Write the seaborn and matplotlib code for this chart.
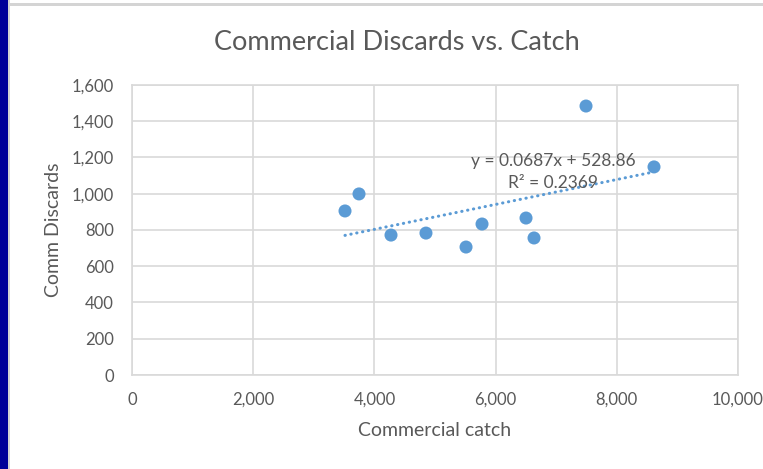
import matplotlib
matplotlib.use("Agg")
import matplotlib.pyplot as plt
import seaborn as sns
import numpy as np
import pandas as pd
from matplotlib.patches import Rectangle
from matplotlib.ticker import FuncFormatter

# Commercial catch vs. commercial discards
catch = [3515, 3746, 4274, 4851, 5512, 5776, 6502, 6634, 7492, 8614]
discards = [905, 999, 772, 783, 706, 833, 866, 756, 1484, 1148]

# Linear trendline coefficients
slope = 0.0687
intercept = 528.86
r_squared = 0.2369

x_ticks = [0, 2000, 4000, 6000, 8000, 10000]
y_ticks = [0, 200, 400, 600, 800, 1000, 1200, 1400, 1600]

df = pd.DataFrame({"catch": catch, "discards": discards})

sns.set_theme(style="white")
plt.rcParams["font.family"] = ["Lato", "DejaVu Sans"]

W, H = 763, 469
fig = plt.figure(figsize=(W / 100, H / 100), dpi=100)
fig.patch.set_facecolor("white")

# Frame: dark blue band on the left, light gray border lines
fig.patches.append(Rectangle((0, 0), 8 / W, 1, transform=fig.transFigure,
                             facecolor="#000099", edgecolor="none", zorder=0))
fig.patches.append(Rectangle((8 / W, 0), 2 / W, 1, transform=fig.transFigure,
                             facecolor="#D4D4D4", edgecolor="none", zorder=0))
fig.patches.append(Rectangle((10 / W, 1 - 6 / H), 1, 3 / H, transform=fig.transFigure,
                             facecolor="#D4D4D4", edgecolor="none", zorder=0))

left, right, top, bottom = 132, 738, 85, 375
ax = fig.add_axes([left / W, 1 - bottom / H, (right - left) / W, (bottom - top) / H])

blue = "#5B9BD5"
grid_c = "#D9D9D9"
text_c = "#595959"

sns.scatterplot(data=df, x="catch", y="discards", ax=ax, color=blue, s=88,
                edgecolor="none", zorder=3, legend=False)

# Trendline over the data range
xl = np.array([min(catch), max(catch)])
sns.lineplot(x=xl, y=slope * xl + intercept, ax=ax, color=blue, linewidth=2.2,
             linestyle=(0, (0.1, 1.85)), dash_capstyle="round", zorder=2)

ax.set_xlim(0, 10000)
ax.set_ylim(0, 1600)
ax.set_xticks(x_ticks)
ax.set_yticks(y_ticks)
fmt = FuncFormatter(lambda v, p: f"{int(v):,}")
ax.xaxis.set_major_formatter(fmt)
ax.yaxis.set_major_formatter(fmt)
ax.grid(True, color=grid_c, linewidth=1.2)
ax.set_axisbelow(True)
for s in ax.spines.values():
    s.set_color(grid_c)
    s.set_linewidth(1.2)
ax.tick_params(axis="both", length=0, labelsize=12, colors=text_c)
ax.tick_params(axis="y", pad=13)
ax.tick_params(axis="x", pad=12)

ax.set_xlabel("Commercial catch", fontsize=14, color=text_c, labelpad=10)
ax.set_ylabel("Comm Discards", fontsize=14, color=text_c, labelpad=7)

fig.text(397 / W, 1 - 42 / H, "Commercial Discards vs. Catch", ha="center", va="center",
         fontsize=19.5, color=text_c)

trend_txt = f"y = {slope}x + {intercept}\nR² = {r_squared}"
ax.annotate(trend_txt, xy=(553 / W, 1 - 172 / H), xycoords="figure fraction",
            ha="center", va="center", fontsize=12.5, color=text_c, linespacing=1.4,
            multialignment="center")

fig.savefig("out.png", dpi=100, facecolor="white")
